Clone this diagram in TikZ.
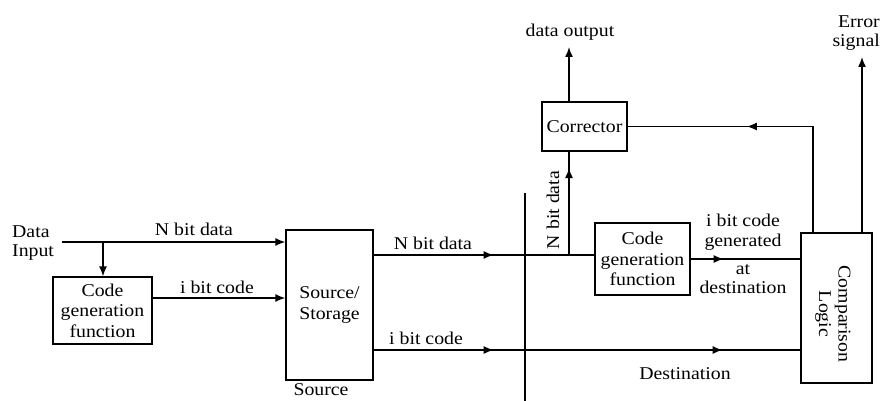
\documentclass[tikz,border=0pt]{standalone}
\usepackage{fontspec}
\setmainfont{Liberation Serif}[FakeStretch=1.1]
\usetikzlibrary{arrows.meta,decorations.markings}
\tikzset{
  tip/.tip={Latex[length=10pt,width=8pt]},
  box/.style={draw, line width=1.3pt, inner sep=1pt, align=center, font=\fontsize{18}{20.5}\selectfont},
  txt/.style={inner sep=0pt, align=center, font=\fontsize{18}{19.5}\selectfont},
  wire/.style={line width=1.5pt},
  arr/.style={wire, -tip},
  midone/.style={wire, postaction={decorate}, decoration={markings, mark=at position #1 with {\arrow{tip}}}},
  midtwo/.style 2 args={wire, postaction={decorate}, decoration={markings, mark=at position #1 with {\arrow{tip}}, mark=at position #2 with {\arrow{tip}}}}
}
\begin{document}
\begin{tikzpicture}[x=1pt,y=-1pt]
\useasboundingbox (0,0) rectangle (880,401);

% boxes
\node[box, minimum width=99pt, minimum height=67pt] (cg1) at (102.5,310.5) {Code\\generation\\function};
\node[box, minimum width=87pt, minimum height=150pt] (src) at (329.5,305) {Source/\\Storage};
\node[box, minimum width=85pt, minimum height=49pt] (corr) at (584.5,126.5) {Corrector};
\node[box, minimum width=95pt, minimum height=72pt] (cg2) at (642.5,259) {Code\\generation\\function};
\node[box, minimum width=71pt, minimum height=150pt] (cmp) at (836.5,308) {};
\node[txt, rotate=-90] (cmplabel) at (833,314) {Comparison\\Logic};

% texts
\node[txt, align=left, anchor=west] (din-l) at (12,243) {Data\\Input};
\node[txt] (nbd1) at (194,229) {N bit data};
\node[txt] (ibc1) at (217,287) {i bit code};
\node[txt] (srcl) at (321,390) {Source};
\node[txt] (nbd2) at (433,243) {N bit data};
\node[txt] (ibc2) at (426,338) {i bit code};
\node[txt, rotate=90] (nbd3) at (553,210) {N bit data};
\node[txt] (dout) at (570,32) {data output};
\node[txt, align=right, anchor=east] (err) at (880,33) {Error\\signal};
\node[txt] (ibg) at (743,232) {i bit code\\generated};
\node[txt] (atd) at (743,279) {at\\destination};
\node[txt] (dest) at (685,374) {Destination};

% coordinates
\coordinate (din) at (62,242);
\coordinate (j0) at (103,242);
\coordinate (c1) at ([yshift=12.5pt]cg1.east);
\coordinate (s1) at ([yshift=50pt]src.east);
\coordinate (s2) at ([yshift=-45pt]src.east);
\coordinate (j1) at (569,255);
\coordinate (dtip) at (569,47);
\coordinate (sep1) at (525,193);
\coordinate (sep2) at (525,401);
\coordinate (f0) at ([xshift=-23.5pt]cmp.north);
\coordinate (e0) at ([xshift=25.5pt]cmp.north);
\coordinate (etip) at (862,57);

% connectors
\draw[arr] (din) -- (din -| src.west);
\draw[arr] (j0) -- (j0 |- cg1.north);
\draw[arr] (c1) -- (c1 -| src.west);
\draw[midone=120pt] (s1) -- (s1 -| cg2.west);
\draw[midone=87pt] (j1) -- (j1 |- corr.south);
\draw[arr] (j1 |- corr.north) -- (dtip);
\draw[wire] (sep1) -- (sep2);
\draw[midtwo={120pt}{349pt}] (s2) -- (s2 -| cmp.west);
\draw[midone=33pt] (cg2.east) -- (cg2.east -| cmp.west);
\draw[midone=172pt] (f0) -- (f0 |- corr.east) -- (corr.east);
\draw[arr] (e0) -- (etip);
\end{tikzpicture}
\end{document}
